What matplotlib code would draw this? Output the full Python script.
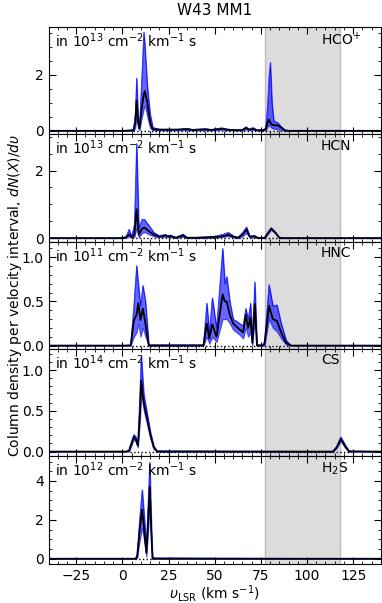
import numpy as np
import matplotlib
matplotlib.use("Agg")
import matplotlib.pyplot as plt
from matplotlib.ticker import AutoMinorLocator, MultipleLocator

# Données (vitesse, médiane, bornes basse / haute)
hcop_v = [-40, 0, 4, 6, 7, 7.7, 8.5, 9.3, 10.3, 11.6, 12.2, 13.5, 15, 16.5, 20, 30, 35, 38,
          45, 48, 53.8, 57, 62, 65, 67, 68.5, 70.7, 73, 76, 77.6, 78.7, 79.4, 80.1, 81, 82,
          84, 86, 88, 90, 140]
hcop_med = [0, 0, 0.01, 0.02, 0.3, 1.08, 0.3, 0.1, 0.7, 1.3, 1.42, 1.0, 0.3, 0.06, 0.04, 0.04,
            0.06, 0.03, 0.05, 0.03, 0.07, 0.04, 0.02, 0.03, 0.1, 0.04, 0.07, 0.02, 0.02, 0.05,
            0.3, 0.40, 0.3, 0.22, 0.2, 0.2, 0.12, 0.02, 0, 0]
hcop_lo = [0, 0, 0, 0, 0.1, 0.6, 0.1, 0.02, 0.4, 0.8, 0.9, 0.5, 0.1, 0.02, 0.02, 0.02, 0.03,
           0.01, 0.03, 0.01, 0.04, 0.02, 0.01, 0.01, 0.05, 0.02, 0.03, 0.01, 0.01, 0.02, 0.15,
           0.2, 0.15, 0.1, 0.08, 0.05, 0.03, 0, 0, 0]
hcop_hi = [0, 0, 0.02, 0.04, 0.6, 1.88, 0.5, 0.2, 1.6, 3.52, 3.0, 1.6, 0.6, 0.12, 0.06, 0.06,
           0.09, 0.05, 0.08, 0.05, 0.11, 0.06, 0.03, 0.05, 0.15, 0.06, 0.12, 0.03, 0.03, 0.1,
           1.0, 1.9, 2.44, 1.0, 0.35, 0.3, 0.15, 0.03, 0, 0]

hcn_v = [-40, 0, 2, 3.6, 5, 6.5, 7.7, 8.9, 10.7, 12, 14, 17, 20, 23.3, 24.5, 26, 29, 32.8, 35,
         40, 50, 55, 57.3, 60, 62.6, 65, 67.2, 69, 71.7, 73.5, 77, 78.5, 80.6, 83, 85, 87, 140]
hcn_med = [0, 0, 0.02, 0.11, 0.03, 0.1, 0.86, 0.1, 0.28, 0.31, 0.22, 0.1, 0.04, 0.08, 0.05,
           0.06, 0.01, 0.08, 0.01, 0.01, 0.03, 0.06, 0.1, 0.04, 0.01, 0.1, 0.25, 0.04, 0.05, 0,
           0, 0.12, 0.28, 0.15, 0.01, 0, 0]
hcn_lo = [0, 0, 0, 0.05, 0, 0.03, 0.3, 0.02, 0.15, 0.18, 0.12, 0.05, 0.02, 0.04, 0.03, 0.03,
          0, 0.04, 0, 0, 0.01, 0.04, 0.06, 0.02, 0, 0.05, 0.15, 0.02, 0.02, 0, 0, 0.1, 0.25,
          0.13, 0, 0, 0]
hcn_hi = [0, 0, 0.05, 0.26, 0.05, 0.4, 2.8, 0.3, 0.56, 0.55, 0.4, 0.17, 0.07, 0.11, 0.07, 0.09,
          0.02, 0.12, 0.02, 0.02, 0.05, 0.12, 0.17, 0.07, 0.02, 0.16, 0.33, 0.06, 0.08, 0.01, 0,
          0.14, 0.31, 0.17, 0.02, 0, 0]

hnc_v = [-40, 0, 4.5, 6.2, 7.7, 8.6, 9.8, 11.1, 12.5, 14.3, 43.9, 45.7, 47.1, 48.7, 51, 54.3,
         55.5, 56.5, 58.2, 60, 63.6, 65.4, 66.8, 68.1, 69.4, 70.4, 71.7, 72.9, 76.1, 77, 79.4,
         81.5, 83.7, 86, 88.7, 91.4, 140]
hnc_med = [0, 0, 0, 0.28, 0.35, 0.48, 0.29, 0.42, 0.25, 0, 0, 0.25, 0.08, 0.24, 0.1, 0.58, 0.5,
           0.5, 0.35, 0.25, 0.18, 0.15, 0.35, 0.2, 0.32, 0.03, 0.47, 0, 0, 0.02, 0.45, 0.3,
           0.28, 0.15, 0.03, 0, 0]
hnc_lo = [0, 0, 0, 0.1, 0.15, 0.25, 0.1, 0.2, 0.1, 0, 0, 0.1, 0.02, 0.1, 0.04, 0.3, 0.3, 0.3,
          0.25, 0.18, 0.12, 0.08, 0.2, 0.1, 0.15, 0, 0.3, 0, 0, 0, 0.3, 0.2, 0.16, 0.08, 0.01,
          0, 0]
hnc_hi = [0, 0, 0.01, 0.45, 0.905, 0.7, 0.45, 0.68, 0.5, 0.01, 0.01, 0.48, 0.15, 0.54, 0.2,
          1.10, 0.7, 0.78, 0.5, 0.3, 0.25, 0.22, 0.42, 0.3, 0.48, 0.06, 0.72, 0.01, 0.01, 0.05,
          0.69, 0.45, 0.46, 0.25, 0.06, 0, 0]

cs_v = [-40, 2, 3.6, 5, 6.2, 7.3, 8.4, 9.6, 10.2, 11, 11.6, 13.4, 15.2, 17, 18.8, 114, 116,
        118.3, 120.5, 122.7, 140]
cs_med = [0, 0, 0.01, 0.1, 0.18, 0.15, 0.07, 0.5, 0.87, 0.7, 0.6, 0.4, 0.2, 0.05, 0, 0, 0.05,
          0.155, 0.07, 0, 0]
cs_lo = [0, 0, 0, 0.08, 0.15, 0.12, 0.05, 0.4, 0.75, 0.58, 0.5, 0.33, 0.16, 0.03, 0, 0, 0.04,
         0.13, 0.05, 0, 0]
cs_hi = [0, 0, 0.02, 0.13, 0.21, 0.18, 0.09, 0.8, 1.18, 0.9, 0.7, 0.47, 0.24, 0.07, 0.01, 0,
         0.06, 0.18, 0.09, 0.01, 0]

h2s_v = [-40, 7, 8, 9.3, 10.7, 11.8, 13, 14, 14.8, 15.6, 16.3, 140]
h2s_med = [0, 0, 0.1, 1.4, 2.53, 1.5, 0.3, 2.0, 3.69, 1.5, 0, 0]
h2s_lo = [0, 0, 0.05, 0.9, 1.6, 0.9, 0.1, 1.5, 3.0, 1.0, 0, 0]
h2s_hi = [0, 0, 0.2, 2.0, 3.55, 2.2, 0.6, 3.0, 4.96, 2.0, 0.05, 0]

species = ["HCO$^{+}$", "HCN", "HNC", "CS", "H$_2$S"]
exponents = [13, 13, 11, 14, 12]
all_v = [hcop_v, hcn_v, hnc_v, cs_v, h2s_v]
all_med = [hcop_med, hcn_med, hnc_med, cs_med, h2s_med]
all_lo = [hcop_lo, hcn_lo, hnc_lo, cs_lo, h2s_lo]
all_hi = [hcop_hi, hcn_hi, hnc_hi, cs_hi, h2s_hi]
ylims = [(-0.13, 3.7), (-0.11, 3.07), (-0.04, 1.175), (-0.06, 1.256), (-0.26, 5.26)]
ymajor = [2, 2, 0.5, 0.5, 2]
dotted = [(6, 88), (5, 87), (5, 90), (4, 124), (7, 16)]
vshade = (77, 118)

fig, axes = plt.subplots(5, 1, figsize=(3.82, 6.03), dpi=100, sharex=True)
fig.subplots_adjust(left=0.127, right=0.997, top=0.955, bottom=0.065, hspace=0)

for i, ax in enumerate(axes):
    v = np.array(all_v[i])
    ax.axvspan(vshade[0], vshade[1], facecolor='#dcdcdc', edgecolor='#bdbdbd', lw=1, zorder=0)
    ax.fill_between(v, all_lo[i], all_hi[i], color='blue', alpha=0.6, lw=0.8, zorder=2)
    ax.plot(v, all_hi[i], color='blue', lw=0.6, alpha=0.7, zorder=2)
    ax.plot(v, all_med[i], color='black', lw=1.3, zorder=3)
    ax.plot(dotted[i], [0, 0], color='black', ls=':', lw=1, zorder=4)
    ax.set_xlim(-40, 140)
    ax.set_ylim(*ylims[i])
    ax.xaxis.set_major_locator(MultipleLocator(25))
    ax.xaxis.set_minor_locator(MultipleLocator(5))
    ax.yaxis.set_major_locator(MultipleLocator(ymajor[i]))
    ax.yaxis.set_minor_locator(AutoMinorLocator())
    ax.tick_params(which='both', direction='in', top=True, right=True, labelsize=10)
    ax.tick_params(which='major', length=5)
    ax.tick_params(which='minor', length=2.5)
    ax.text(0.02, 0.96, "in 10$^{%d}$ cm$^{-2}$ km$^{-1}$ s" % exponents[i],
            transform=ax.transAxes, ha='left', va='top', fontsize=10)
    ax.text(0.82, 0.96, species[i], transform=ax.transAxes, ha='left', va='top', fontsize=10)

axes[0].set_title("W43 MM1", fontsize=11, pad=9)
axes[-1].set_xlabel(r"$\upsilon_{\rm LSR}$ (km s$^{-1}$)", fontsize=10, labelpad=0)
fig.text(0.015, 0.51, r"Column density per velocity interval, $dN(X)/d\upsilon$",
         rotation=90, ha='left', va='center', fontsize=10)

plt.savefig("out.png", dpi=100)
